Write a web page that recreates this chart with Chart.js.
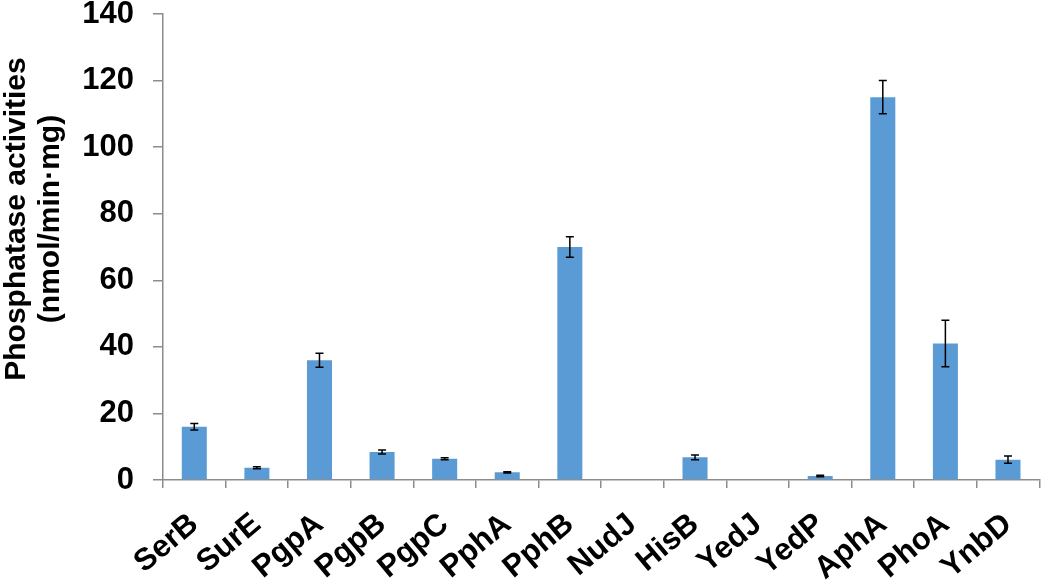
<!DOCTYPE html>
<html>
<head>
<meta charset="utf-8">
<script src="https://cdn.jsdelivr.net/npm/chart.js@4"></script>
<style>
  html, body { margin: 0; padding: 0; background: #fff; }
  #wrap { width: 1050px; height: 584px; }
</style>
</head>
<body>
<div id="wrap"><canvas id="c" width="1050" height="584"></canvas></div>
<script>
const categories = ['SerB','SurE','PgpA','PgpB','PgpC','PphA','PphB','NudJ','HisB','YedJ','YedP','AphA','PhoA','YnbD'];
const activities = [16, 3.7, 36, 8.4, 6.4, 2.3, 70, 0, 6.8, 0, 1.2, 115, 41, 6.1];
const errors     = [1, 0.3, 2.1, 0.6, 0.3, 0.2, 3.1, 0, 0.7, 0, 0.2, 5, 7, 1.1];
const yTicks = [0, 20, 40, 60, 80, 100, 120, 140];
const yTitle = ['Phosphatase activities', '(nmol/min\u00B7mg)'];

const FONT = "'Liberation Sans', Arial, sans-serif";
const axisGrey = '#8c8c8c';

const errorBars = {
  id: 'errorBars',
  afterDatasetsDraw(chart) {
    const meta = chart.getDatasetMeta(0);
    const ys = chart.scales.y;
    const ctx = chart.ctx;
    ctx.save();
    ctx.strokeStyle = '#000';
    ctx.lineWidth = 1.5;
    meta.data.forEach((bar, i) => {
      const e = errors[i];
      if (!e) return;
      const v = activities[i];
      const x = bar.x;
      const yHi = ys.getPixelForValue(v + e);
      const yLo = ys.getPixelForValue(v - e);
      const cap = 4;
      ctx.beginPath();
      ctx.moveTo(x, yHi); ctx.lineTo(x, yLo);
      ctx.moveTo(x - cap, yHi); ctx.lineTo(x + cap, yHi);
      ctx.moveTo(x - cap, yLo); ctx.lineTo(x + cap, yLo);
      ctx.stroke();
    });
    ctx.restore();
  }
};

new Chart(document.getElementById('c'), {
  type: 'bar',
  data: {
    labels: categories,
    datasets: [{
      data: activities,
      backgroundColor: '#5B9BD5',
      borderWidth: 0,
      barPercentage: 0.4,
      categoryPercentage: 1.0
    }]
  },
  options: {
    responsive: false,
    animation: false,
    devicePixelRatio: 1,
    layout: { padding: { left: 0, right: 3, top: 0, bottom: 0 } },
    plugins: { legend: { display: false }, tooltip: { enabled: false } },
    scales: {
      x: {
        grid: { display: true, offset: true, drawOnChartArea: false, drawTicks: true, tickLength: 8, color: axisGrey, lineWidth: 1.5 },
        border: { display: true, color: axisGrey, width: 1.5 },
        ticks: {
          color: '#000',
          font: { family: FONT, size: 31, weight: 'bold' },
          minRotation: 40, maxRotation: 40,
          padding: 18,
          autoSkip: false
        },
        afterFit(scale) { scale.height = 104; }
      },
      y: {
        min: 0, max: 140,
        afterBuildTicks(scale) { scale.ticks = yTicks.map(v => ({ value: v })); },
        grid: { display: true, drawOnChartArea: false, drawTicks: true, tickLength: 10, color: axisGrey, lineWidth: 1.5 },
        border: { display: true, color: axisGrey, width: 1.5 },
        ticks: {
          color: '#000',
          font: { family: FONT, size: 31, weight: 'bold' },
          padding: 19
        },
        title: {
          display: true,
          text: yTitle,
          color: '#000',
          font: { family: FONT, size: 30, weight: 'bold', lineHeight: 1.15 },
          padding: { top: -1, bottom: 0 }
        },
        afterFit(scale) {
          scale.width = 163;
          scale.paddingTop = 14;
          scale.paddingBottom = 0;
          if (!scale._titleShifted) {
            const orig = scale.drawTitle.bind(scale);
            scale.drawTitle = function () {
              const ctx = this.ctx;
              ctx.save();
              ctx.translate(0, -28);
              orig();
              ctx.restore();
            };
            scale._titleShifted = true;
          }
        }
      }
    }
  },
  plugins: [errorBars]
});
</script>
</body>
</html>
